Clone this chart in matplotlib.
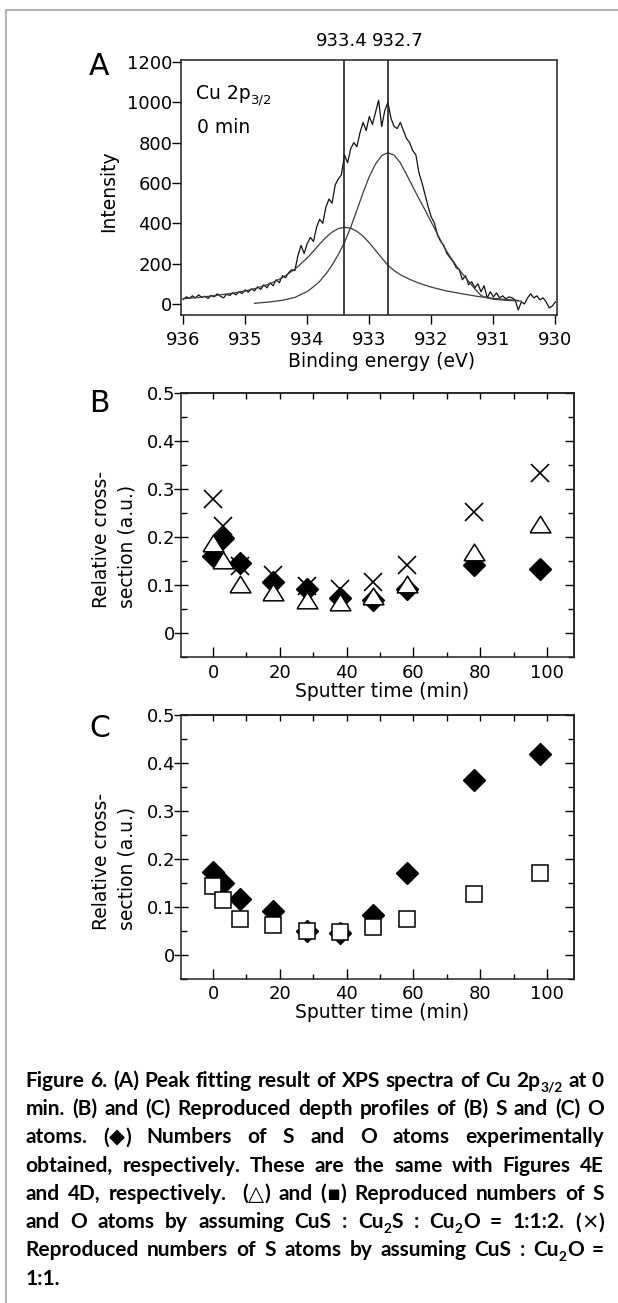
import re
import numpy as np
import matplotlib
matplotlib.use('Agg')
import matplotlib.pyplot as plt
from matplotlib.lines import Line2D
from matplotlib.ticker import MultipleLocator

W, H = 618, 1303


def fx(x):
    return x / W


def fy(y):
    return 1 - y / H


# ---- panel A : Cu 2p3/2 spectrum at 0 min (936.00 -> 930.00 eV, step 0.05) ----
intensity = [
    22, 35, 28, 40, 30, 45, 32, 38, 27, 42,          # 936.00 - 935.55
    35, 50, 38, 30, 48, 42, 55, 45, 60, 52,          # 935.50 - 935.05
    70, 58, 75, 65, 85, 72, 95, 80, 105, 90,         # 935.00 - 934.55
    120, 105, 140, 130, 155, 170, 165, 240, 290, 250,  # 934.50 - 934.05
    300, 330, 310, 380, 420, 400, 480, 520, 500, 590,  # 934.00 - 933.55
    620, 640, 740, 700, 770, 800, 780, 850, 900, 860,  # 933.50 - 933.05
    930, 890, 950, 1010, 880, 960, 1000, 920, 880, 870,  # 933.00 - 932.55
    900, 860, 820, 800, 760, 740, 650, 600, 540, 480,  # 932.50 - 932.05
    430, 400, 340, 310, 290, 250, 230, 210, 180, 170,  # 932.00 - 931.55
    120, 140, 95, 110, 80, 100, 60, 90, 30, 60,      # 931.50 - 931.05
    35, 55, 30, 40, 25, 35, 30, 20, -30, 10,         # 931.00 - 930.55
    0, 30, 50, 30, 40, 20, 30, 10, -20, -10,         # 930.50 - 930.05
    10,                                              # 930.00
]
energy = np.linspace(936.0, 930.0, len(intensity))

comp1_e = [936.0, 935.75, 935.5, 935.25, 935.0, 934.8, 934.6, 934.4, 934.2,
           934.0, 933.9, 933.8, 933.7, 933.6, 933.5, 933.4, 933.3, 933.2,
           933.1, 933.0, 932.9, 932.8, 932.7, 932.6, 932.5, 932.35, 932.2,
           932.0, 931.75, 931.5, 931.25, 931.0, 930.8, 930.6]
comp1_i = [26, 32, 41, 51, 64, 80, 100, 130, 172,
           228, 262, 297, 330, 356, 374, 380, 376, 360,
           336, 303, 266, 228, 192, 165, 145, 122, 103,
           83, 64, 50, 37, 28, 22, 17]

comp2_e = [934.85, 934.6, 934.4, 934.2, 934.0, 933.9, 933.8, 933.7, 933.6,
           933.5, 933.4, 933.3, 933.2, 933.1, 933.0, 932.9, 932.8, 932.7,
           932.6, 932.5, 932.4, 932.3, 932.2, 932.1, 932.0, 931.9, 931.8,
           931.7, 931.6, 931.5, 931.4, 931.3, 931.2, 931.1, 931.0, 930.8,
           930.55]
comp2_i = [3, 10, 18, 32, 62, 85, 112, 148, 192,
           245, 305, 380, 465, 552, 632, 694, 736, 750,
           738, 700, 642, 582, 522, 465, 405, 345, 285,
           235, 190, 150, 112, 75, 42, 30, 23, 18,
           14]

peak_pos = [933.4, 932.7]
peak_labels = ['933.4', '932.7']

# ---- panels B and C : depth profiles ----
sputter_time = [0, 3, 8, 18, 28, 38, 48, 58, 78, 98]
s_exp = [0.160, 0.198, 0.145, 0.106, 0.092, 0.072, 0.068, 0.092, 0.142, 0.133]
s_rep_112 = [0.187, 0.151, 0.101, 0.085, 0.068, 0.065, 0.077, 0.101, 0.168, 0.226]
s_rep_11 = [0.279, 0.223, 0.140, 0.120, 0.098, 0.092, 0.106, 0.142, 0.251, 0.332]
o_exp = [0.172, 0.149, 0.116, 0.091, 0.050, 0.046, 0.083, 0.170, 0.364, 0.419]
o_rep_112 = [0.143, 0.114, 0.074, 0.062, 0.050, 0.048, 0.057, 0.074, 0.126, 0.170]

caption_lines = [
    "Figure 6. (A) Peak fitting result of XPS spectra of Cu 2p_{3/2} at 0",
    "min. (B) and (C) Reproduced depth profiles of (B) S and (C) O",
    "atoms. (\u25c6) Numbers of S and O atoms experimentally",
    "obtained, respectively. These are the same with Figures 4E",
    "and 4D, respectively.  (\u25b3) and (\u25aa) Reproduced numbers of S",
    "and O atoms by assuming CuS : Cu_{2}S : Cu_{2}O = 1:1:2. (\u00d7)",
    "Reproduced numbers of S atoms by assuming CuS : Cu_{2}O =",
    "1:1.",
]

plt.rcParams['font.family'] = ['DejaVu Sans']
fig = plt.figure(figsize=(W / 100, H / 100), dpi=100)
renderer = fig.canvas.get_renderer()


def axes_px(l, t, r, b):
    return fig.add_axes([fx(l), fy(b), (r - l) / W, (b - t) / H])


def measure(txt, **kw):
    t = fig.text(0, 0, txt, **kw)
    w = t.get_window_extent(renderer).width
    t.remove()
    return w


# frame of the page
fig.add_artist(Line2D([fx(6), fx(6)], [fy(10), 0], color='#b4b4b4', lw=1.5))
fig.add_artist(Line2D([fx(6), 1], [fy(10), fy(10)], color='#b4b4b4', lw=1.5))

TS = 13  # tick label size
LS = 13.5  # axis label size

# ---------------- panel A ----------------
axA = axes_px(181.3, 60, 556.7, 315)
axA.plot(energy, intensity, color='#111111', lw=0.9)
axA.plot(comp1_e, comp1_i, color='#3c3c3c', lw=0.9)
axA.plot(comp2_e, comp2_i, color='#3c3c3c', lw=0.9)
for e in peak_pos:
    axA.axvline(e, color='#222222', lw=1.2)
axA.set_xlim(936.03, 929.98)
axA.set_ylim(-55, 1210)
axA.set_xticks(range(936, 929, -1))
axA.set_yticks(range(0, 1201, 200))
axA.tick_params(direction='out', length=6.3, width=1, labelsize=TS)
axA.tick_params(axis='x', pad=5.0)
axA.tick_params(axis='y', pad=0.3)
for s in axA.spines.values():
    s.set_linewidth(1.1)
    s.set_color('#222222')

fig.text(fx(89), fy(75), 'A', fontsize=21.5, va='baseline')
fig.text(fx(341.5), fy(46.5), peak_labels[0], fontsize=TS, ha='center', va='baseline')
fig.text(fx(398), fy(46.5), peak_labels[1], fontsize=TS, ha='center', va='baseline')
fig.text(fx(109), fy(191), 'Intensity', fontsize=LS, rotation=90, ha='center', va='center')
fig.text(fx(382), fy(367), 'Binding energy (eV)', fontsize=LS, ha='center', va='baseline')

fig.text(fx(196), fy(99.3), 'Cu 2p', fontsize=LS, va='baseline')
w0 = measure('Cu 2p', fontsize=LS)
fig.text(fx(196 + w0 + 0.5), fy(103.5), '3/2', fontsize=9.5, va='baseline')
fig.text(fx(197), fy(132.7), '0 min', fontsize=LS, va='baseline')

# ---------------- panels B and C ----------------
tri = [(-1, -0.8), (1, -0.8), (0, 0.8), (-1, -0.8)]


def profile_axes(t, b, letter, letter_base):
    ax = axes_px(181, t, 573.5, b)
    ax.set_xlim(-9.6, 107.9)
    ax.set_ylim(-0.051, 0.5)
    ax.set_xticks(range(0, 101, 20))
    ax.xaxis.set_minor_locator(MultipleLocator(10))
    ax.set_yticks([0, 0.1, 0.2, 0.3, 0.4, 0.5])
    ax.set_yticklabels(['0', '0.1', '0.2', '0.3', '0.4', '0.5'])
    ax.yaxis.set_minor_locator(MultipleLocator(0.05))
    ax.tick_params(axis='y', which='major', direction='inout', length=10.5, width=1,
                   right=False, labelsize=TS, pad=-1.2)
    ax.tick_params(axis='y', which='minor', direction='in', length=4.3, width=1, right=False)
    ax.tick_params(axis='x', which='major', direction='in', length=7, width=1,
                   top=False, labelsize=TS, pad=4.5)
    ax.tick_params(axis='x', which='minor', direction='in', length=3.6, width=1, top=False)
    top = ax.secondary_xaxis('top')
    top.set_xticks(range(0, 101, 10))
    top.tick_params(axis='x', direction='in', length=4.3, width=1, labeltop=False)
    right = ax.secondary_yaxis('right')
    right.set_yticks([0, 0.1, 0.2, 0.3, 0.4, 0.5])
    right.yaxis.set_minor_locator(MultipleLocator(0.05))
    right.tick_params(axis='y', which='major', direction='in', length=6.5, width=1, labelright=False)
    right.tick_params(axis='y', which='minor', direction='in', length=4.3, width=1)
    for a in (ax, top, right):
        for s in a.spines.values():
            s.set_linewidth(1.1)
            s.set_color('#222222')
    fig.text(fx(382), fy(b + 39.5), 'Sputter time (min)', fontsize=LS, ha='center', va='baseline')
    fig.text(fx(114), fy(b - 49), 'Relative cross-\nsection (a.u.)', fontsize=LS, rotation=90,
             ha='center', va='bottom', multialignment='left', linespacing=1.45)
    fig.text(fx(89), fy(letter_base), letter, fontsize=21.5, va='baseline')
    return ax


axB = profile_axes(392.7, 657.3, 'B', 412)
axB.plot(sputter_time, s_exp, ls='none', marker='D', ms=10.8, color='black', zorder=3)
axB.plot(sputter_time, s_rep_112, ls='none', marker=tri, ms=15, mfc='white', mec='black',
         mew=1.1, zorder=4)
axB.plot(sputter_time, s_rep_11, ls='none', marker='x', ms=12.5, mew=1.2, color='black', zorder=5)

axC = profile_axes(715, 979, 'C', 737)
axC.plot(sputter_time, o_exp, ls='none', marker='D', ms=10.8, color='black', zorder=3)
axC.plot(sputter_time, o_rep_112, ls='none', marker='s', ms=12, mfc='white', mec='black',
         mew=1.1, zorder=4)

# ---------------- caption (justified) ----------------
SYMS = '\u25c6\u25b3\u25aa\u00d7'


def styles(cs):
    return {
        'n': dict(family=['Lato', 'DejaVu Sans'], fontweight='bold', fontsize=cs),
        'sub': dict(family=['Lato', 'DejaVu Sans'], fontweight='bold', fontsize=cs * 0.66),
        'sym': dict(family=['DejaVu Sans'], fontweight='normal', fontsize=cs * 1.0),
    }


def word_segments(word):
    segs = []
    for part in re.split(r'(_\{[^}]*\})', word):
        if not part:
            continue
        if part.startswith('_{'):
            segs.append((part[2:-1], 'sub'))
            continue
        buf = ''
        for ch in part:
            if ch in SYMS:
                if buf:
                    segs.append((buf, 'n'))
                    buf = ''
                segs.append((ch, 'sym'))
            else:
                buf += ch
        if buf:
            segs.append((buf, 'n'))
    return segs


def natural_width(line, kw):
    words = line.split(' ')
    sp = measure('a a', **kw['n']) - measure('aa', **kw['n'])
    return sum(sum(measure(t, **kw[k]) for t, k in word_segments(w)) for w in words) \
        + sp * (len(words) - 1)


x_left, x_right = 25.6, 604.0
avail = x_right - x_left
base0, line_gap = 1086.7, 28.3

CS = 13.0
CS = CS * avail * 0.985 / natural_width(caption_lines[0], styles(CS))
KW = styles(CS)
space_w = measure('a a', **KW['n']) - measure('aa', **KW['n'])

for i, line in enumerate(caption_lines):
    words = line.split(' ')
    segs = [word_segments(w) for w in words]
    widths = [sum(measure(t, **KW[k]) for t, k in s) for s in segs]
    if i < len(caption_lines) - 1 and len(words) > 1:
        gap = (avail - sum(widths)) / (len(words) - 1)
    else:
        gap = space_w
    yb = base0 + i * line_gap
    x = x_left
    for s, wd in zip(segs, widths):
        xx = x
        for t, k in s:
            dy = 0.22 * CS * 100 / 72 if k == 'sub' else 0.0
            fig.text(fx(xx), fy(yb + dy), t, va='baseline', ha='left', **KW[k])
            xx += measure(t, **KW[k])
        x += wd + gap

fig.savefig('out.png', dpi=100)
